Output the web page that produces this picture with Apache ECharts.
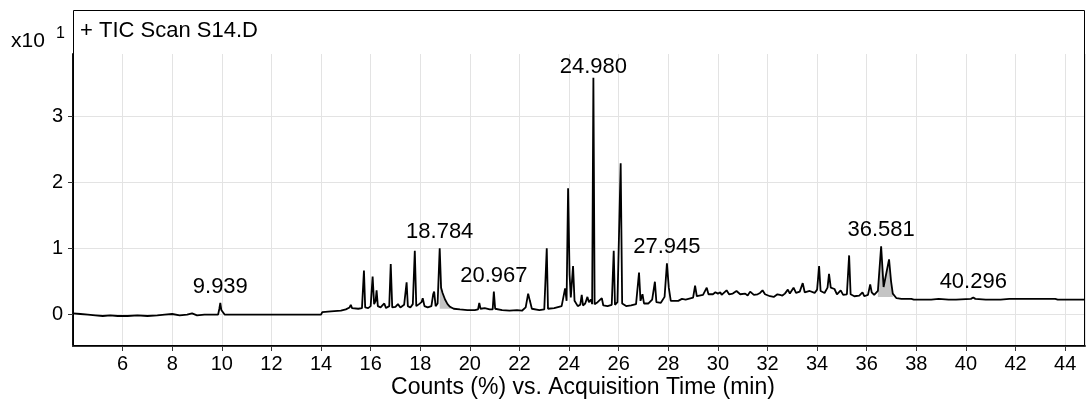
<!DOCTYPE html>
<html>
<head>
<meta charset="utf-8">
<script src="https://cdn.jsdelivr.net/npm/echarts@6/dist/echarts.min.js"></script>
<style>
html,body{margin:0;padding:0;background:#fff;}
#chart{width:1086px;height:404px;}
</style>
</head>
<body>
<div id="chart"></div>
<script>
// Acquisition time (min), by region
const timesA = [4.00,4.30,4.60,4.90,5.20,5.50,5.80,6.20,6.60,7.00,7.40,7.70,8.00,8.30,8.60,8.80,9.00,9.30,9.85,9.90,9.939,9.98,10.05,10.12,10.50,11.00,12.00,13.00,13.75,13.78,13.82,14.00];
const countsA = [0.01,0.00,-0.01,-0.02,-0.03,-0.02,-0.03,-0.03,-0.02,-0.03,-0.02,-0.01,0.00,-0.02,-0.01,0.01,-0.02,-0.01,-0.01,0.08,0.17,0.06,0.03,-0.01,-0.01,-0.01,-0.01,-0.01,-0.01,0.02,-0.01,-0.01];

const timesB = [14.05,14.40,14.80,15.00,15.15,15.20,15.25,15.50,15.65,15.73,15.78,15.90,16.00,16.08,16.14,16.20,16.24,16.29,16.40,16.55,16.62,16.75,16.81,16.87,17.00,17.10,17.20,17.35,17.45,17.50,17.60,17.70,17.78,17.84,17.95,18.05,18.10,18.17,18.30,18.45,18.52,18.56,18.62,18.70,18.784,18.84,18.90,19.00,19.10,19.20,19.35];
const countsB = [0.03,0.04,0.05,0.07,0.10,0.14,0.09,0.08,0.09,0.66,0.10,0.09,0.12,0.57,0.15,0.20,0.36,0.12,0.10,0.16,0.09,0.12,0.76,0.10,0.11,0.15,0.10,0.14,0.48,0.12,0.10,0.15,0.96,0.12,0.15,0.18,0.24,0.12,0.10,0.12,0.30,0.34,0.12,0.16,1.00,0.40,0.32,0.22,0.15,0.11,0.08];

const timesC = [19.60,19.90,20.20,20.33,20.38,20.43,20.60,20.80,20.92,20.967,21.02,21.10,21.30,21.60,21.90,22.10,22.25,22.35,22.42,22.50,22.80,23.00,23.10,23.15,23.40,23.70,23.84,23.90,23.96,24.02,24.07,24.16,24.22,24.35,24.45,24.51,24.56,24.65,24.74,24.80,24.88,24.93,24.980,25.03,25.15,25.32,25.38,25.55,25.60,25.72,25.80,25.85,25.95,26.03,26.08,26.14,26.30,26.50,26.70,26.82,26.88,26.96,27.02,27.20,27.35,27.46,27.52,27.70,27.85,27.945,28.02,28.10];
const countsC = [0.07,0.06,0.06,0.07,0.17,0.08,0.09,0.07,0.07,0.34,0.08,0.08,0.06,0.05,0.06,0.05,0.10,0.31,0.20,0.08,0.06,0.07,1.00,0.08,0.09,0.12,0.39,0.20,1.91,0.60,0.25,0.73,0.20,0.12,0.14,0.29,0.13,0.16,0.26,0.18,0.22,0.15,3.59,0.15,0.18,0.24,0.13,0.12,0.14,0.14,0.96,0.14,0.18,0.18,2.29,0.16,0.12,0.13,0.15,0.63,0.20,0.30,0.16,0.16,0.22,0.49,0.18,0.17,0.26,0.77,0.40,0.20];

const timesD = [28.40,28.55,28.60,28.70,29.00,29.08,29.15,29.40,29.55,29.62,29.80,29.90,30.00,30.10,30.15,30.20,30.35,30.45,30.52,30.60,30.75,30.90,30.95,31.10,31.20,31.30,31.45,31.60,31.70,31.80,31.90,32.10,32.25,32.40,32.50,32.60,32.70,32.82,32.90,33.05,33.15,33.30,33.42,33.50,33.70,33.90,34.00,34.08,34.14,34.30,34.42,34.48,34.55,34.70,34.80,34.95,35.05,35.20,35.29,35.35,35.50,35.70,35.83,35.90,36.05,36.14,36.20,36.30,36.45,36.581,36.68,36.75,36.90,36.98,37.05,37.20,37.40,37.80,37.85,37.90,38.30,38.60,38.90,39.30,39.60,40.20,40.296,40.38,40.80,41.40,41.75,42.50,43.60,43.70,44.80];
const countsD = [0.20,0.23,0.21,0.22,0.25,0.43,0.27,0.29,0.40,0.30,0.30,0.33,0.31,0.33,0.29,0.30,0.36,0.30,0.33,0.31,0.35,0.30,0.33,0.31,0.28,0.34,0.29,0.30,0.32,0.36,0.30,0.27,0.26,0.30,0.29,0.28,0.31,0.37,0.31,0.40,0.32,0.34,0.47,0.33,0.35,0.32,0.37,0.73,0.35,0.32,0.40,0.61,0.40,0.38,0.30,0.36,0.29,0.30,0.89,0.30,0.27,0.28,0.33,0.27,0.29,0.45,0.33,0.29,0.35,1.03,0.41,0.42,0.83,0.50,0.31,0.24,0.23,0.23,0.25,0.22,0.22,0.22,0.23,0.22,0.22,0.23,0.25,0.23,0.22,0.22,0.23,0.23,0.23,0.22,0.22];

// Annotated peaks
const peakTimes = [9.939, 18.784, 20.967, 24.980, 27.945, 36.581, 40.296];
const peakValues = [0.17, 1.00, 0.34, 3.59, 0.77, 1.03, 0.25];
const peakLabels = ['9.939', '18.784', '20.967', '24.980', '27.945', '36.581', '40.296'];
// Integrated (shaded) regions
const shadeStart = [18.784, 36.45];
const shadeEnd = [19.35, 37.10];
const shadeBase = [0.08, 0.26];
// Axis ticks
const yTicks = [0, 1, 2, 3];
const xMin = 4, xMax = 44.8, xStep = 2;
const yMin = -0.486, yMax = 3.95;

const times = [...timesA, ...timesB, ...timesC, ...timesD];
const counts = [...countsA, ...countsB, ...countsC, ...countsD];
const FONT = "'Liberation Sans', Arial, sans-serif";
const trace = times.map((t, i) => [t, counts[i]]);

const shadeSeries = shadeStart.map((s, k) => ({
  type: 'line',
  data: trace.filter(p => p[0] >= s && p[0] <= shadeEnd[k]),
  showSymbol: false,
  lineStyle: { width: 0 },
  areaStyle: { color: '#c4c4c4', opacity: 1, origin: shadeBase[k] },
  silent: true,
  z: 1
}));

const chart = echarts.init(document.getElementById('chart'), null, { renderer: 'canvas' });
chart.setOption({
  animation: false,
  backgroundColor: '#fff',
  grid: { left: 73, right: 1, top: 54, bottom: 58, containLabel: false },
  xAxis: {
    type: 'value', min: xMin, max: xMax, interval: xStep,
    axisLine: { show: true, onZero: false, lineStyle: { color: '#333', width: 2 } },
    axisTick: { show: true, length: 5, lineStyle: { color: '#333', width: 1 } },
    axisLabel: { showMinLabel: false, showMaxLabel: false, color: '#000', fontSize: 20, fontFamily: FONT, margin: 8 },
    splitLine: { show: true, lineStyle: { color: '#e3e3e3', width: 1 } }
  },
  yAxis: {
    type: 'value', min: yMin, max: yMax,
    axisLine: { show: true, onZero: false, lineStyle: { color: '#111', width: 2 } },
    axisTick: { show: true, length: 5, customValues: yTicks, lineStyle: { color: '#333', width: 1 } },
    axisLabel: { customValues: yTicks, color: '#000', fontSize: 20, fontFamily: FONT, margin: 10 },
    splitLine: { show: true, lineStyle: { color: '#e3e3e3', width: 1 } }
  },
  series: [
    ...shadeSeries,
    {
      type: 'line',
      data: trace,
      showSymbol: false,
      sampling: 'none',
      lineStyle: { color: '#000', width: 1.8 },
      z: 3,
      markPoint: {
        symbol: 'circle',
        symbolSize: 0,
        silent: true,
        label: { show: true, position: 'top', distance: 5, formatter: '{b}', color: '#000', fontSize: 22, fontFamily: FONT },
        data: peakTimes.map((t, i) => ({
          coord: [t, peakValues[i]],
          name: peakLabels[i],
          label: i === 3 ? { distance: 0 } : undefined
        }))
      }
    }
  ],
  graphic: [
    { type: 'rect', shape: { x: 73.5, y: 10.5, width: 1011, height: 335 },
      style: { fill: 'none', stroke: '#000', lineWidth: 1 }, z: 10, silent: true },
    { type: 'text', x: 11, y: 31, style: { text: 'x10', fontSize: 21, fontFamily: FONT, fill: '#000' }, z: 10 },
    { type: 'text', x: 56, y: 26, style: { text: '1', fontSize: 16, fontFamily: FONT, fill: '#000' }, z: 10 },
    { type: 'text', x: 80, y: 20, style: { text: '+ TIC Scan S14.D', fontSize: 22, fontFamily: FONT, fill: '#000' }, z: 10 },
    { type: 'text', x: 583, y: 388, style: { text: 'Counts (%) vs. Acquisition Time (min)', fontSize: 23, fontFamily: FONT, fill: '#000', align: 'center', verticalAlign: 'middle' }, z: 10 }
  ]
});
</script>
</body>
</html>
